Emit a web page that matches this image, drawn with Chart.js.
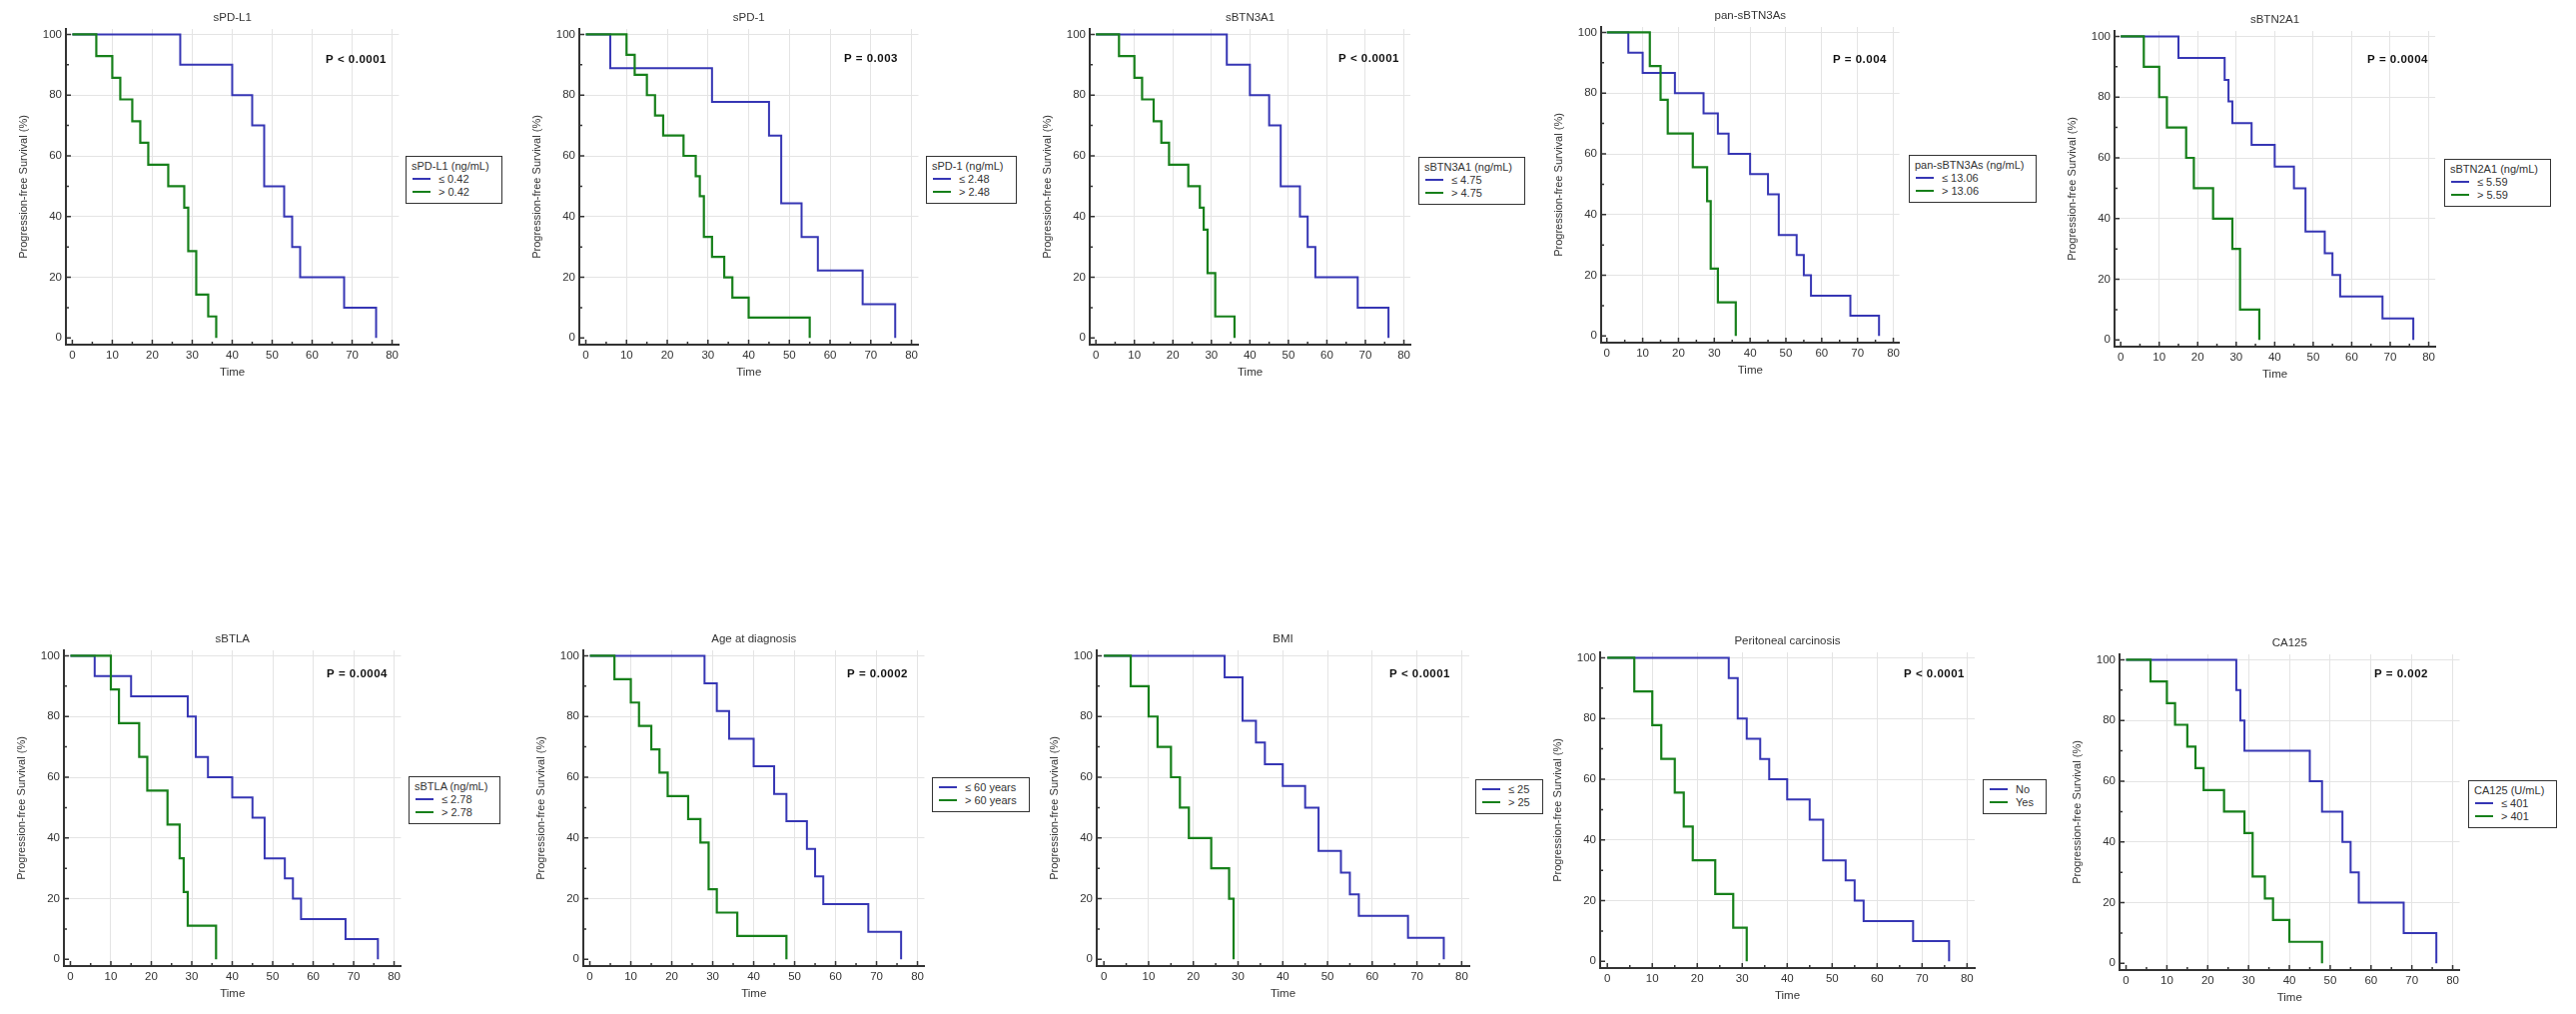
<!DOCTYPE html>
<html>
<head>
<meta charset="utf-8">
<script src="https://cdn.jsdelivr.net/npm/chart.js@4.4.1/dist/chart.umd.min.js"></script>
<style>
  body { margin: 0; background: #fff; width: 2579px; height: 1015px; position: relative; overflow: hidden; }
  .panel { position: absolute; }
  .leg { position: absolute; border: 1.5px solid #333; background: #fff; padding: 3px 12px 4px 5px;
         font: 11px "Liberation Sans", Arial, sans-serif; color: #333; line-height: 13px; white-space: nowrap; }
  .leg .sw { display: inline-block; width: 18px; height: 2px; vertical-align: middle; margin: 0 8px 2px 1px; }
</style>
</head>
<body>
<script>
// tick labels
const xTicks = [0, 10, 20, 30, 40, 50, 60, 70, 80];
const xMinor = [5, 15, 25, 35, 45, 55, 65, 75];
const yTicks = [0, 20, 40, 60, 80, 100];
const yMinor = [10, 30, 50, 70, 90];

// Kaplan-Meier steps: time of event, survival (%) after it
const pdl1LowT = [0, 27, 40, 45, 48, 53, 55, 57, 68, 76];
const pdl1LowS = [100, 90, 80, 70, 50, 40, 30, 20, 10, 0];
const pdl1HighT = [0, 6, 10, 12, 15, 17, 19, 24, 28, 29, 31, 34, 36];
const pdl1HighS = [100, 92.9, 85.7, 78.6, 71.4, 64.3, 57.1, 50, 42.9, 28.6, 14.3, 7.1, 0];

const pd1LowT = [0, 6, 31, 45, 48, 53, 57, 68, 76];
const pd1LowS = [100, 88.9, 77.8, 66.7, 44.4, 33.3, 22.2, 11.1, 0];
const pd1HighT = [0, 10, 12, 15, 17, 19, 24, 27, 28, 29, 31, 34, 36, 40, 55];
const pd1HighS = [100, 93.3, 86.7, 80, 73.3, 66.7, 60, 53.3, 46.7, 33.3, 26.7, 20, 13.3, 6.7, 0];

const btn3a1LowT = [0, 34, 40, 45, 48, 53, 55, 57, 68, 76];
const btn3a1LowS = [100, 90, 80, 70, 50, 40, 30, 20, 10, 0];
const btn3a1HighT = [0, 6, 10, 12, 15, 17, 19, 24, 27, 28, 29, 31, 36];
const btn3a1HighS = [100, 92.9, 85.7, 78.6, 71.4, 64.3, 57.1, 50, 42.9, 35.7, 21.4, 7.1, 0];

const panLowT = [0, 6, 10, 19, 27, 31, 34, 40, 45, 48, 53, 55, 57, 68, 76];
const panLowS = [100, 93.3, 86.7, 80, 73.3, 66.7, 60, 53.3, 46.7, 33.3, 26.7, 20, 13.3, 6.7, 0];
const panHighT = [0, 12, 15, 17, 24, 28, 29, 31, 36];
const panHighS = [100, 88.9, 77.8, 66.7, 55.6, 44.4, 22.2, 11.1, 0];

const btn2a1LowT = [0, 15, 27, 28, 29, 34, 40, 45, 48, 53, 55, 57, 68, 76];
const btn2a1LowS = [100, 92.9, 85.7, 78.6, 71.4, 64.3, 57.1, 50, 35.7, 28.6, 21.4, 14.3, 7.1, 0];
const btn2a1HighT = [0, 6, 10, 12, 17, 19, 24, 29, 31, 36];
const btn2a1HighS = [100, 90, 80, 70, 60, 50, 40, 30, 10, 0];

const btlaLowT = [0, 6, 15, 29, 31, 34, 40, 45, 48, 53, 55, 57, 68, 76];
const btlaLowS = [100, 93.3, 86.7, 80, 66.7, 60, 53.3, 46.7, 33.3, 26.7, 20, 13.3, 6.7, 0];
const btlaHighT = [0, 10, 12, 17, 19, 24, 27, 28, 29, 36];
const btlaHighS = [100, 88.9, 77.8, 66.7, 55.6, 44.4, 33.3, 22.2, 11.1, 0];

const ageLowT = [0, 28, 31, 34, 40, 45, 48, 53, 55, 57, 68, 76];
const ageLowS = [100, 90.9, 81.8, 72.7, 63.6, 54.5, 45.5, 36.4, 27.3, 18.2, 9.1, 0];
const ageHighT = [0, 6, 10, 12, 15, 17, 19, 24, 27, 29, 31, 36, 48];
const ageHighS = [100, 92.3, 84.6, 76.9, 69.2, 61.5, 53.8, 46.2, 38.5, 23.1, 15.4, 7.7, 0];

const bmiLowT = [0, 27, 31, 34, 36, 40, 45, 48, 53, 55, 57, 68, 76];
const bmiLowS = [100, 92.9, 78.6, 71.4, 64.3, 57.1, 50, 35.7, 28.6, 21.4, 14.3, 7.1, 0];
const bmiHighT = [0, 6, 10, 12, 15, 17, 19, 24, 28, 29];
const bmiHighS = [100, 90, 80, 70, 60, 50, 40, 30, 20, 0];

const periNoT = [0, 27, 29, 31, 34, 36, 40, 45, 48, 53, 55, 57, 68, 76];
const periNoS = [100, 93.3, 80, 73.3, 66.7, 60, 53.3, 46.7, 33.3, 26.7, 20, 13.3, 6.7, 0];
const periYesT = [0, 6, 10, 12, 15, 17, 19, 24, 28, 31];
const periYesS = [100, 88.9, 77.8, 66.7, 55.6, 44.4, 33.3, 22.2, 11.1, 0];

const caLowT = [0, 27, 28, 29, 45, 48, 53, 55, 57, 68, 76];
const caLowS = [100, 90, 80, 70, 60, 50, 40, 30, 20, 10, 0];
const caHighT = [0, 6, 10, 12, 15, 17, 19, 24, 29, 31, 34, 36, 40, 48];
const caHighS = [100, 92.9, 85.7, 78.6, 71.4, 64.3, 57.1, 50, 42.9, 28.6, 21.4, 14.3, 7.1, 0];

const BLUE = "#3636b4";
const GREEN = "#17801b";
const FONT = '"Liberation Sans", Arial, sans-serif';

// geo: [px of x=0, px of x=80, px of y=100], pAt: right edge / middle of the P text, leg: legend box corner
const panels = [
  { title: "sPD-L1", legTitle: "sPD-L1 (ng/mL)", names: ["\u2264 0.42", "> 0.42"], p: "P < 0.0001",
    low: [pdl1LowT, pdl1LowS], high: [pdl1HighT, pdl1HighS], geo: [72.7, 392.7, 34], pAt: [387, 60], leg: [406, 156] },
  { title: "sPD-1", legTitle: "sPD-1 (ng/mL)", names: ["\u2264 2.48", "> 2.48"], p: "P = 0.003",
    low: [pd1LowT, pd1LowS], high: [pd1HighT, pd1HighS], geo: [586.7, 912.7, 34], pAt: [899, 59], leg: [927, 156] },
  { title: "sBTN3A1", legTitle: "sBTN3A1 (ng/mL)", names: ["\u2264 4.75", "> 4.75"], p: "P < 0.0001",
    low: [btn3a1LowT, btn3a1LowS], high: [btn3a1HighT, btn3a1HighS], geo: [1096.7, 1406, 34], pAt: [1401, 59], leg: [1420, 157] },
  { title: "pan-sBTN3As", legTitle: "pan-sBTN3As (ng/mL)", names: ["\u2264 13.06", "> 13.06"], p: "P = 0.004",
    low: [panLowT, panLowS], high: [panHighT, panHighS], geo: [1608.3, 1897.3, 32], pAt: [1889, 60], leg: [1911, 155] },
  { title: "sBTN2A1", legTitle: "sBTN2A1 (ng/mL)", names: ["\u2264 5.59", "> 5.59"], p: "P = 0.0004",
    low: [btn2a1LowT, btn2a1LowS], high: [btn2a1HighT, btn2a1HighS], geo: [2123.3, 2432.3, 36], pAt: [2431, 60], leg: [2447, 159] },
  { title: "sBTLA", legTitle: "sBTLA (ng/mL)", names: ["\u2264 2.78", "> 2.78"], p: "P = 0.0004",
    low: [btlaLowT, btlaLowS], high: [btlaHighT, btlaHighS], geo: [70.7, 395, 656], pAt: [388, 675], leg: [409, 777] },
  { title: "Age at diagnosis", legTitle: null, names: ["\u2264 60 years", "> 60 years"], p: "P = 0.0002",
    low: [ageLowT, ageLowS], high: [ageHighT, ageHighS], geo: [590.7, 919.3, 656], pAt: [909, 675], leg: [933, 778] },
  { title: "BMI", legTitle: null, names: ["\u2264 25", "> 25"], p: "P < 0.0001",
    low: [bmiLowT, bmiLowS], high: [bmiHighT, bmiHighS], geo: [1105, 1463.2, 656.7], pAt: [1452, 675], leg: [1477, 780] },
  { title: "Peritoneal carcinosis", legTitle: null, names: ["No", "Yes"], p: "P < 0.0001",
    low: [periNoT, periNoS], high: [periYesT, periYesS], geo: [1609, 1969.3, 658.3], pAt: [1967, 675], leg: [1985, 780] },
  { title: "CA125", legTitle: "CA125 (U/mL)", names: ["\u2264 401", "> 401"], p: "P = 0.002",
    low: [caLowT, caLowS], high: [caHighT, caHighS], geo: [2128.3, 2455.7, 660.7], pAt: [2431, 675], leg: [2471, 781] },
];

const X_MIN = -1.6, X_MAX = 81.7, Y_MIN = -2.2, Y_MAX = 101.8, Y_UNIT = 3.04;
const YW = 62, XH = 38, TOP = 22, RP = 3;

const decor = {
  id: "decor",
  afterDraw(chart, args, o) {
    const { ctx, chartArea: a, scales: { x, y } } = chart;
    ctx.save();
    ctx.strokeStyle = "#333";
    ctx.lineWidth = 1.5;
    ctx.beginPath();
    xTicks.forEach(v => { const px = x.getPixelForValue(v); ctx.moveTo(px, a.bottom); ctx.lineTo(px, a.bottom - 5); });
    xMinor.forEach(v => { const px = x.getPixelForValue(v); ctx.moveTo(px, a.bottom); ctx.lineTo(px, a.bottom - 3); });
    yTicks.forEach(v => { const py = y.getPixelForValue(v); ctx.moveTo(a.left, py); ctx.lineTo(a.left + 5, py); });
    yMinor.forEach(v => { const py = y.getPixelForValue(v); ctx.moveTo(a.left, py); ctx.lineTo(a.left + 3, py); });
    ctx.stroke();

    ctx.fillStyle = "#333";
    ctx.font = "11.5px " + FONT;
    ctx.textAlign = "center";
    ctx.textBaseline = "middle";
    ctx.fillText(o.title, (a.left + a.right) / 2, a.top - 11.5);

    ctx.fillStyle = "#111";
    ctx.font = "bold 11.5px " + FONT;
    ctx.letterSpacing = "0.5px";
    ctx.textAlign = "right";
    ctx.fillText(o.p, o.px, o.py);
    ctx.restore();
  }
};

function toPts(T, S) {
  return T.map((t, i) => ({ x: t, y: S[i] }));
}

panels.forEach(p => {
  const [x0, x80, y100] = p.geo;
  const u = (x80 - x0) / 80;
  const left = x0 + X_MIN * u, right = x0 + X_MAX * u;
  const top = y100 - (Y_MAX - 100) * Y_UNIT, bottom = y100 + (100 - Y_MIN) * Y_UNIT;
  const L = Math.round(left - YW), T = Math.round(top - TOP);
  const W = Math.round(right + RP - L), H = Math.round(bottom + XH - T);

  const box = document.createElement("div");
  box.className = "panel";
  box.style.left = L + "px";
  box.style.top = T + "px";
  const cv = document.createElement("canvas");
  cv.width = W;
  cv.height = H;
  cv.style.width = W + "px";
  cv.style.height = H + "px";
  box.appendChild(cv);
  document.body.appendChild(box);

  const tickFont = { family: FONT, size: 11.5 };
  const gridColor = c => (c.tick && c.tick.value === 0 ? "rgba(0,0,0,0)" : "#e4e4e4");

  new Chart(cv.getContext("2d"), {
    type: "line",
    data: {
      datasets: [
        { label: p.names[1], data: toPts(p.high[0], p.high[1]), borderColor: GREEN, borderWidth: 2.2, stepped: "before", pointRadius: 0, fill: false },
        { label: p.names[0], data: toPts(p.low[0], p.low[1]), borderColor: BLUE, borderWidth: 2, stepped: "before", pointRadius: 0, fill: false },
      ],
    },
    options: {
      responsive: false,
      animation: false,
      devicePixelRatio: 1,
      layout: { padding: { top: TOP, right: RP, left: 0, bottom: 0 } },
      plugins: {
        legend: { display: false },
        tooltip: { enabled: false },
        decor: { title: p.title, p: p.p, px: p.pAt[0] - L, py: p.pAt[1] - T },
      },
      scales: {
        x: {
          type: "linear",
          min: X_MIN,
          max: X_MAX,
          afterBuildTicks: s => { s.ticks = xTicks.map(v => ({ value: v })); },
          afterFit: s => { s.height = XH; },
          grid: { color: gridColor, lineWidth: 1, drawTicks: false },
          border: { display: true, color: "#333", width: 2 },
          ticks: { padding: 4, color: "#333", font: tickFont, maxRotation: 0, autoSkip: false },
          title: { display: true, text: "Time", color: "#333", font: tickFont, padding: { top: 0, bottom: 3 } },
        },
        y: {
          type: "linear",
          min: Y_MIN,
          max: Y_MAX,
          afterBuildTicks: s => { s.ticks = yTicks.map(v => ({ value: v })); },
          afterFit: s => { s.width = YW; },
          grid: { color: gridColor, lineWidth: 1, drawTicks: false },
          border: { display: true, color: "#333", width: 2 },
          ticks: { padding: 4, color: "#333", font: tickFont, autoSkip: false },
          title: { display: true, text: "Progression-free Survival (%)", color: "#333", font: { family: FONT, size: 11 }, padding: { top: 13, bottom: 0 } },
        },
      },
    },
    plugins: [decor],
  });

  // legend box
  const leg = document.createElement("div");
  leg.className = "leg";
  leg.style.left = p.leg[0] + "px";
  leg.style.top = p.leg[1] + "px";
  let html = p.legTitle ? '<div>' + p.legTitle + '</div>' : "";
  html += '<div><span class="sw" style="background:' + BLUE + '"></span>' + p.names[0] + '</div>';
  html += '<div><span class="sw" style="background:' + GREEN + '"></span>' + p.names[1] + '</div>';
  leg.innerHTML = html;
  document.body.appendChild(leg);
});
</script>
</body>
</html>
